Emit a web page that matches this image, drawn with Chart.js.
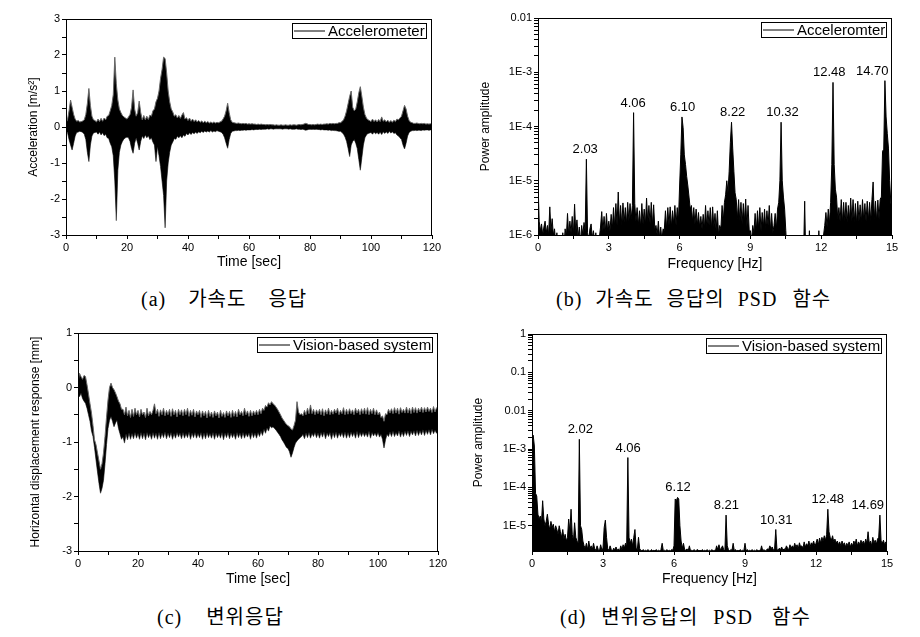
<!DOCTYPE html>
<html>
<head>
<meta charset="utf-8">
<script src="https://cdn.jsdelivr.net/npm/chart.js@4.4.0/dist/chart.umd.min.js"></script>
<style>
  body { margin: 0; background: #fff; width: 920px; height: 637px; position: relative; overflow: hidden; }
  canvas { position: absolute; }
  .cap { position: absolute; font-family: "Liberation Serif", "Noto Sans CJK KR", serif; font-size: 20px; line-height: 20px; color: #000; white-space: nowrap; }
  .cap span { display: inline-block; letter-spacing: 1px; }
</style>
</head>
<body>
<canvas id="accChart" width="460" height="280" style="left:0;top:0"></canvas>
<canvas id="accPsdChart" width="460" height="280" style="left:460px;top:0"></canvas>
<canvas id="dispChart" width="460" height="280" style="left:0;top:320px"></canvas>
<canvas id="dispPsdChart" width="460" height="280" style="left:460px;top:320px"></canvas>

<div class="cap" style="left:141px;top:289px"><span>(a)</span><span style="margin-left:22px">가속도</span><span style="margin-left:22px">응답</span></div>
<div class="cap" style="left:556px;top:289px"><span>(b)</span><span style="margin-left:13px">가속도</span><span style="margin-left:13px">응답의</span><span style="margin-left:13px">PSD</span><span style="margin-left:15px">함수</span></div>
<div class="cap" style="left:157px;top:607px"><span>(c)</span><span style="margin-left:24px">변위응답</span></div>
<div class="cap" style="left:560px;top:607px"><span>(d)</span><span style="margin-left:15px">변위응답의</span><span style="margin-left:15px">PSD</span><span style="margin-left:19px">함수</span></div>

<script>
// ---------- data ----------

// (a) acceleration, upper / lower envelope every 0.5 s, 0..120 s [m/s2]
const accStep = 0.5;
const accHi = [
  0.12, 0.2, 0.45, 0.75, 0.55, 0.35, 0.22, 0.16, 0.18, 0.14,
  0.15, 0.17, 0.2, 0.35, 0.65, 1.07, 0.6, 0.3, 0.2, 0.18,
  0.14, 0.22, 0.15, 0.24, 0.16, 0.25, 0.2, 0.3, 0.32, 0.45,
  0.6, 0.9, 1.94, 1.2, 0.75, 0.5, 0.4, 0.32, 0.28, 0.25,
  0.22, 0.28, 0.35, 0.55, 1.03, 0.5, 0.3, 0.4, 0.72, 0.4,
  0.2, 0.32, 0.2, 0.3, 0.21, 0.33, 0.3, 0.45, 0.5, 0.7,
  0.8, 1.0, 1.35, 1.6, 1.94, 1.9, 1.5, 1.0, 0.7, 0.5,
  0.42, 0.3, 0.34, 0.25, 0.32, 0.24, 0.33, 0.4, 0.22, 0.26,
  0.18, 0.25, 0.16, 0.22, 0.15, 0.2, 0.14, 0.18, 0.13, 0.17,
  0.12, 0.16, 0.12, 0.15, 0.11, 0.14, 0.11, 0.14, 0.11, 0.13,
  0.12, 0.14, 0.16, 0.22, 0.3, 0.45, 0.66, 0.4, 0.2, 0.13,
  0.12, 0.11, 0.1, 0.11, 0.1, 0.09, 0.1, 0.09, 0.1, 0.08,
  0.09, 0.08, 0.09, 0.08, 0.08, 0.07, 0.08, 0.07, 0.08, 0.07,
  0.07, 0.06, 0.07, 0.06, 0.07, 0.06, 0.06, 0.05, 0.06, 0.05,
  0.05, 0.06, 0.05, 0.05, 0.06, 0.05, 0.05, 0.06, 0.05, 0.06,
  0.06, 0.05, 0.06, 0.07, 0.06, 0.07, 0.08, 0.1, 0.09, 0.07,
  0.07, 0.06, 0.07, 0.06, 0.07, 0.08, 0.07, 0.08, 0.07, 0.08,
  0.08, 0.09, 0.08, 0.1, 0.09, 0.1, 0.09, 0.1, 0.1, 0.12,
  0.12, 0.15, 0.2, 0.3, 0.45, 0.65, 0.85, 1.0, 0.55, 0.45,
  0.5, 0.7, 0.95, 1.12, 0.85, 0.55, 0.35, 0.25, 0.2, 0.18,
  0.15, 0.22, 0.15, 0.2, 0.14, 0.21, 0.15, 0.28, 0.16, 0.2,
  0.14, 0.19, 0.13, 0.18, 0.13, 0.19, 0.15, 0.22, 0.2, 0.25,
  0.3, 0.45, 0.6, 0.5, 0.3, 0.18, 0.13, 0.12, 0.1, 0.1,
  0.11, 0.1, 0.09, 0.1, 0.09, 0.1, 0.08, 0.09, 0.08, 0.09,
  0.08
];
const accLo = [
  -0.1, -0.15, -0.35, -0.5, -0.64, -0.45, -0.25, -0.15, -0.14, -0.12,
  -0.13, -0.15, -0.2, -0.35, -0.7, -0.96, -0.5, -0.25, -0.17, -0.15,
  -0.14, -0.2, -0.14, -0.22, -0.16, -0.24, -0.2, -0.3, -0.32, -0.45,
  -0.55, -0.8, -1.5, -2.6, -1.2, -0.7, -0.5, -0.4, -0.33, -0.3,
  -0.28, -0.3, -0.4, -0.6, -0.73, -0.45, -0.3, -0.45, -0.64, -0.4,
  -0.25, -0.32, -0.22, -0.3, -0.24, -0.35, -0.3, -0.42, -0.5, -0.96,
  -0.55, -0.8, -1.1, -1.5, -1.9, -2.8, -1.5, -1.0, -0.7, -0.5,
  -0.42, -0.32, -0.34, -0.26, -0.3, -0.24, -0.3, -0.22, -0.26, -0.18,
  -0.22, -0.16, -0.21, -0.15, -0.19, -0.14, -0.18, -0.13, -0.16, -0.12,
  -0.15, -0.11, -0.14, -0.11, -0.14, -0.1, -0.14, -0.11, -0.13, -0.1,
  -0.12, -0.13, -0.15, -0.2, -0.3, -0.45, -0.59, -0.35, -0.18, -0.12,
  -0.11, -0.1, -0.1, -0.09, -0.1, -0.09, -0.09, -0.08, -0.09, -0.08,
  -0.08, -0.08, -0.07, -0.08, -0.07, -0.07, -0.07, -0.06, -0.07, -0.06,
  -0.06, -0.06, -0.05, -0.06, -0.05, -0.05, -0.06, -0.05, -0.05, -0.05,
  -0.05, -0.05, -0.06, -0.05, -0.05, -0.05, -0.06, -0.05, -0.06, -0.06,
  -0.06, -0.05, -0.06, -0.06, -0.07, -0.06, -0.07, -0.09, -0.08, -0.07,
  -0.06, -0.07, -0.06, -0.07, -0.06, -0.07, -0.07, -0.08, -0.07, -0.08,
  -0.08, -0.08, -0.09, -0.08, -0.1, -0.09, -0.1, -0.1, -0.11, -0.12,
  -0.12, -0.15, -0.2, -0.28, -0.4, -0.6, -0.82, -0.5, -0.4, -0.35,
  -0.45, -0.6, -0.9, -1.2, -0.85, -0.5, -0.3, -0.22, -0.18, -0.17,
  -0.15, -0.2, -0.14, -0.19, -0.15, -0.2, -0.14, -0.21, -0.13, -0.18,
  -0.13, -0.18, -0.12, -0.17, -0.13, -0.18, -0.16, -0.22, -0.25, -0.3,
  -0.35, -0.5, -0.61, -0.45, -0.25, -0.15, -0.12, -0.1, -0.1, -0.09,
  -0.1, -0.09, -0.09, -0.1, -0.08, -0.09, -0.08, -0.08, -0.09, -0.08,
  -0.08
];

// (c) horizontal displacement, upper / lower envelope every 0.5 s [mm]
const dispStep = 0.5;
const dispHi = [
  0.1, 0.26, 0.2, 0.15, 0.22, 0.2, 0.05, -0.12, -0.3, -0.47,
  -0.7, -0.96, -1.05, -1.2, -1.35, -1.5, -1.4, -1.2, -0.9, -0.55,
  -0.23, 0.0, 0.08, 0.0, -0.04, -0.1, -0.17, -0.25, -0.3, -0.4,
  -0.4, -0.5, -0.36, -0.52, -0.42, -0.55, -0.4, -0.53, -0.38, -0.5,
  -0.42, -0.54, -0.4, -0.5, -0.45, -0.55, -0.38, -0.52, -0.44, -0.5,
  -0.42, -0.3, -0.48, -0.4, -0.53, -0.41, -0.5, -0.38, -0.52, -0.42,
  -0.5, -0.4, -0.53, -0.39, -0.5, -0.42, -0.54, -0.4, -0.5, -0.41,
  -0.52, -0.4, -0.5, -0.38, -0.53, -0.42, -0.51, -0.4, -0.54, -0.43,
  -0.5, -0.42, -0.55, -0.43, -0.52, -0.44, -0.56, -0.42, -0.53, -0.45,
  -0.55, -0.43, -0.52, -0.45, -0.56, -0.42, -0.53, -0.46, -0.55, -0.43,
  -0.52, -0.44, -0.55, -0.42, -0.53, -0.44, -0.54, -0.4, -0.5, -0.44,
  -0.52, -0.38, -0.5, -0.43, -0.53, -0.42, -0.52, -0.43, -0.5, -0.42,
  -0.5, -0.4, -0.48, -0.38, -0.42, -0.33, -0.36, -0.28, -0.32, -0.26,
  -0.3, -0.32, -0.36, -0.4, -0.45, -0.5, -0.56, -0.6, -0.64, -0.68,
  -0.7, -0.72, -0.76, -0.78, -0.7, -0.6, -0.26, -0.45, -0.5, -0.48,
  -0.52, -0.42, -0.5, -0.38, -0.48, -0.32, -0.48, -0.4, -0.5, -0.41,
  -0.48, -0.4, -0.5, -0.39, -0.52, -0.41, -0.49, -0.38, -0.5, -0.42,
  -0.49, -0.4, -0.47, -0.38, -0.5, -0.42, -0.48, -0.37, -0.5, -0.4,
  -0.49, -0.39, -0.48, -0.41, -0.5, -0.38, -0.47, -0.4, -0.5, -0.39,
  -0.48, -0.38, -0.49, -0.37, -0.5, -0.4, -0.48, -0.38, -0.5, -0.41,
  -0.5, -0.45, -0.55, -0.52, -0.62, -0.48, -0.5, -0.4, -0.47, -0.39,
  -0.48, -0.37, -0.47, -0.38, -0.49, -0.37, -0.46, -0.4, -0.47, -0.36,
  -0.47, -0.38, -0.48, -0.36, -0.46, -0.37, -0.47, -0.38, -0.45, -0.36,
  -0.46, -0.37, -0.45, -0.36, -0.44, -0.38, -0.46, -0.35, -0.45, -0.37,
  -0.42
];
const dispLo = [
  -0.1, -0.17, -0.1, -0.2, -0.25, -0.29, -0.38, -0.5, -0.62, -0.8,
  -0.9, -1.1, -1.33, -1.55, -1.76, -1.94, -1.85, -1.7, -1.4, -1.05,
  -0.75, -0.6, -0.53, -0.62, -0.72, -0.65, -0.6, -0.75, -0.85, -0.95,
  -0.9, -1.02, -0.85, -0.96, -0.83, -0.95, -0.84, -0.94, -0.82, -0.93,
  -0.84, -0.95, -0.82, -0.94, -0.83, -0.96, -0.82, -0.92, -0.84, -0.95,
  -0.82, -0.93, -0.83, -0.95, -0.82, -0.94, -0.83, -0.92, -0.81, -0.94,
  -0.83, -0.92, -0.82, -0.95, -0.84, -0.93, -0.82, -0.91, -0.83, -0.94,
  -0.82, -0.93, -0.84, -0.92, -0.81, -0.95, -0.83, -0.92, -0.82, -0.93,
  -0.84, -0.92, -0.82, -0.95, -0.83, -0.94, -0.82, -0.92, -0.84, -0.93,
  -0.82, -0.95, -0.83, -0.92, -0.84, -0.93, -0.82, -0.96, -0.83, -0.92,
  -0.82, -0.94, -0.83, -0.92, -0.84, -0.95, -0.82, -0.92, -0.83, -0.94,
  -0.82, -0.93, -0.84, -0.91, -0.83, -0.95, -0.82, -0.92, -0.83, -0.93,
  -0.82, -0.9, -0.8, -0.88, -0.76, -0.84, -0.74, -0.8, -0.7, -0.74,
  -0.72, -0.75, -0.78, -0.82, -0.86, -0.9, -0.96, -1.0, -1.05, -1.1,
  -1.12, -1.18, -1.28, -1.2, -1.1, -1.02, -0.98, -0.95, -0.92, -0.9,
  -0.86, -0.94, -0.83, -0.92, -0.82, -0.93, -0.84, -0.9, -0.82, -0.92,
  -0.83, -0.93, -0.82, -0.91, -0.81, -0.94, -0.83, -0.9, -0.82, -0.95,
  -0.82, -0.92, -0.81, -0.93, -0.83, -0.9, -0.82, -0.92, -0.81, -0.93,
  -0.82, -0.92, -0.81, -0.9, -0.82, -0.93, -0.8, -0.92, -0.82, -0.9,
  -0.82, -0.9, -0.83, -0.91, -0.8, -0.93, -0.82, -0.89, -0.83, -0.9,
  -0.82, -0.91, -0.86, -0.95, -1.11, -0.96, -0.86, -0.9, -0.81, -0.9,
  -0.8, -0.9, -0.82, -0.89, -0.79, -0.91, -0.81, -0.9, -0.8, -0.88,
  -0.79, -0.9, -0.8, -0.87, -0.79, -0.89, -0.78, -0.88, -0.79, -0.87,
  -0.77, -0.88, -0.78, -0.86, -0.77, -0.87, -0.76, -0.85, -0.78, -0.84,
  -0.8
];

// (b) PSD of acceleration, every 0.05 Hz, 0..15 Hz
const psdStep = 0.05;
const accPsd = [
  1e-5, 1.8e-6, 1.2e-6, 1.6e-6, 1e-6, 1.4e-6, 1.8e-6, 1.1e-6, 1.5e-6, 1e-6, 3.3e-6, 1.2e-6, 2e-6, 1e-6, 1.3e-6, 7e-7, 1.1e-6, 6e-7, 8e-7, 5e-7,
  5e-7, 1.1e-6, 6e-7, 1.3e-6, 9e-7, 2.5e-6, 1e-6, 1.8e-6, 1.1e-6, 2.2e-6, 1e-6, 3.7e-6, 1.1e-6, 1.9e-6, 9e-7, 1.4e-6, 7e-7, 1.5e-6, 1e-6, 1.7e-6,
  1.2e-6, 2.5e-5, 1.1e-6, 8e-7, 1.3e-6, 1.6e-6, 9e-7, 1.2e-6, 7e-7, 1.1e-6, 6e-7, 1e-6, 9e-7, 1.4e-6, 2.7e-6, 1.2e-6, 2.2e-6, 1.1e-6, 2.5e-6, 1.2e-6,
  1.8e-6, 1.2e-6, 2.4e-6, 1.3e-6, 3.2e-6, 1.4e-6, 3.8e-6, 1.5e-6, 6.2e-6, 1.6e-6, 3.5e-6, 1.5e-6, 3.9e-6, 1.7e-6, 3.2e-6, 1.6e-6, 4e-6, 1.8e-6, 3.8e-6, 2e-6,
  3.5e-6, 1.8e-4, 3.8e-6, 1.8e-6, 3.2e-6, 1.5e-6, 2.8e-6, 1.4e-6, 3.8e-6, 1.6e-6, 3e-6, 1.5e-6, 4.8e-6, 1.7e-6, 3.5e-6, 1.6e-6, 4e-6, 1.5e-6, 3.6e-6, 1.3e-6,
  1.5e-6, 1e-6, 1.8e-6, 9e-7, 1.4e-6, 8e-7, 1.3e-6, 1.2e-6, 2.8e-6, 1.3e-6, 3.2e-6, 1.5e-6, 3.3e-6, 1.4e-6, 2.8e-6, 1.6e-6, 3.5e-6, 1.5e-6, 3.2e-6, 1.8e-6,
  8e-6, 3e-5, 1.5e-4, 9.5e-5, 3e-5, 2e-5, 1.2e-5, 8e-6, 5e-6, 3e-6, 3.5e-6, 1.8e-6, 3.2e-6, 1.6e-6, 3e-6, 1.5e-6, 2.6e-6, 1.4e-6, 2.2e-6, 1.3e-6,
  2.4e-6, 1.3e-6, 3.5e-6, 1.4e-6, 2.8e-6, 1.5e-6, 3.2e-6, 1.3e-6, 3.3e-6, 1.4e-6, 2.5e-6, 1.2e-6, 2.8e-6, 1e-6, 1.5e-6, 1.3e-6, 3.5e-6, 1.8e-6, 4e-6, 5.5e-6,
  1e-5, 6e-6, 1.5e-5, 5e-5, 1.2e-4, 4e-5, 1.5e-5, 6e-6, 4.5e-6, 2e-6, 4.5e-6, 1.8e-6, 4e-6, 1.6e-6, 3.8e-6, 1.8e-6, 4.6e-6, 1.4e-6, 3.5e-6, 1.2e-6,
  1.2e-6, 8e-7, 1.5e-6, 1.1e-6, 2.5e-6, 1.2e-6, 2.8e-6, 1.3e-6, 3.2e-6, 1.2e-6, 2.6e-6, 1.4e-6, 3e-6, 1.3e-6, 2.8e-6, 1.5e-6, 3.5e-6, 1.2e-6, 2.5e-6, 1.1e-6,
  1.5e-6, 2.5e-6, 1.3e-6, 3e-6, 4e-6, 1e-5, 1.2e-4, 1e-5, 5e-6, 3e-6, 1.2e-6, 5e-7, 4e-7, 4e-7, 3e-7, 4e-7, 3e-7, 4e-7, 3e-7, 4e-7,
  3e-7, 4e-7, 3e-7, 4e-7, 3e-7, 4e-7, 4.2e-6, 3e-7, 4e-7, 3e-7, 1.2e-6, 3e-7, 4e-7, 3e-7, 4e-7, 3e-7, 4e-7, 3e-7, 1.2e-6, 4e-7,
  3e-7, 4e-7, 1e-6, 1.5e-6, 2.6e-6, 1.4e-6, 3e-6, 1.6e-6, 4e-6, 2e-5, 6.5e-4, 2e-5, 7e-6, 5e-6, 2e-6, 3.2e-6, 1.8e-6, 4.5e-6, 1.7e-6, 4e-6,
  1.8e-6, 4e-6, 1.7e-6, 3.5e-6, 1.9e-6, 4.8e-6, 1.8e-6, 4.5e-6, 1.7e-6, 3.8e-6, 1.6e-6, 4.2e-6, 1.8e-6, 3.6e-6, 1.7e-6, 4.5e-6, 1.9e-6, 3.8e-6, 1.8e-6, 4.2e-6,
  1.9e-6, 4e-6, 1.8e-6, 4.5e-6, 9.5e-6, 2e-6, 4.2e-6, 1.8e-6, 4.4e-6, 2e-6, 4.6e-6, 5e-6, 3.5e-5, 3.8e-5, 7e-4, 1.5e-4, 7.5e-5, 4e-5, 1e-5, 4e-6,
  2e-6
];

// (d) PSD of displacement, every 0.05 Hz, 0..15 Hz
const dispPsd = [
  1.5e-3, 2.3e-3, 1.2e-3, 7e-5, 6e-5, 2e-5, 1.5e-5, 1.8e-5, 1.2e-5, 4.5e-5, 1.5e-5, 1e-5, 1.3e-5, 2e-5, 1.1e-5, 8e-6, 1.3e-5, 9e-6, 1.1e-5, 7e-6,
  1e-5, 8e-6, 6e-6, 1e-5, 7e-6, 5e-6, 8e-6, 4.5e-6, 6e-6, 4e-6, 5e-6, 1.5e-5, 7e-6, 2.7e-5, 6e-6, 4e-6, 1.2e-5, 5e-6, 4e-6, 3.5e-6,
  1.8e-3, 1e-5, 8e-6, 4e-6, 3e-6, 2.6e-6, 3.5e-6, 2.4e-6, 4e-6, 2.5e-6, 3e-6, 2.4e-6, 3.5e-6, 2.5e-6, 2.3e-6, 3e-6, 2.4e-6, 2.2e-6, 3.2e-6, 2.4e-6,
  2.6e-6, 9e-6, 1.4e-5, 5e-6, 2.5e-6, 2.3e-6, 3e-6, 2.4e-6, 2.2e-6, 2.6e-6, 2.4e-6, 2.8e-6, 2.3e-6, 2.5e-6, 2.2e-6, 3e-6, 2.4e-6, 3.2e-6, 2.6e-6, 3.5e-6,
  2.8e-6, 6e-4, 5e-6, 3.5e-6, 4.5e-6, 3e-6, 5e-6, 8e-6, 2.6e-6, 2.4e-6, 5e-6, 2.5e-6, 2.3e-6, 2.2e-6, 2.4e-6, 2.2e-6, 2.3e-6, 2.2e-6, 2.4e-6, 2.2e-6,
  2.2e-6, 2.4e-6, 2.2e-6, 2.3e-6, 2.2e-6, 2.4e-6, 2.2e-6, 2.3e-6, 2.2e-6, 2.4e-6, 3.5e-6, 2.2e-6, 2.3e-6, 2.2e-6, 2.4e-6, 2.2e-6, 2.3e-6, 2.2e-6, 2.4e-6, 2.3e-6,
  3e-6, 5e-5, 4.5e-5, 5.5e-5, 5e-5, 1e-5, 4e-6, 2.6e-6, 3.5e-6, 2.4e-6, 2.3e-6, 2.5e-6, 2.2e-6, 3e-6, 2.2e-6, 2.3e-6, 2.2e-6, 2.4e-6, 2.2e-6, 2.3e-6,
  2.4e-6, 2.2e-6, 2.3e-6, 2.2e-6, 2.4e-6, 2.2e-6, 2.3e-6, 2.2e-6, 2.4e-6, 2.2e-6, 2.3e-6, 2.2e-6, 2.4e-6, 2.2e-6, 2.3e-6, 2.2e-6, 3e-6, 2.4e-6, 3.2e-6, 2.4e-6,
  2.6e-6, 3e-6, 2.4e-6, 2.2e-6, 1.9e-5, 3e-6, 2.4e-6, 2.2e-6, 2.4e-6, 2.3e-6, 3.5e-6, 2.2e-6, 2.4e-6, 2.2e-6, 2.3e-6, 2.2e-6, 2.4e-6, 2.2e-6, 2.3e-6, 2.2e-6,
  3.5e-6, 2.2e-6, 2.4e-6, 2.2e-6, 2.3e-6, 2.2e-6, 2.4e-6, 2.2e-6, 2.3e-6, 2.2e-6, 2.4e-6, 2.2e-6, 2.3e-6, 2.2e-6, 3e-6, 2.2e-6, 2.4e-6, 2.2e-6, 2.3e-6, 2.5e-6,
  2.4e-6, 3e-6, 2.5e-6, 2.8e-6, 2.3e-6, 2.5e-6, 8e-6, 2.4e-6, 2.3e-6, 2.6e-6, 2.4e-6, 2.8e-6, 2.3e-6, 2.5e-6, 2.4e-6, 3e-6, 2.6e-6, 2.4e-6, 3.2e-6, 2.6e-6,
  3e-6, 2.6e-6, 3.5e-6, 2.8e-6, 3.2e-6, 2.5e-6, 3.6e-6, 2.8e-6, 3e-6, 2.6e-6, 3.8e-6, 2.8e-6, 3.4e-6, 3e-6, 4e-6, 2.8e-6, 3.6e-6, 3.2e-6, 4e-6, 3e-6,
  3.5e-6, 4.5e-6, 3.2e-6, 4.8e-6, 3.5e-6, 5e-6, 4e-6, 5.5e-6, 4.2e-6, 6e-6, 2.7e-5, 7e-6, 5e-6, 4.2e-6, 5.5e-6, 3.8e-6, 4.5e-6, 3.5e-6, 4e-6, 3.2e-6,
  3.8e-6, 3e-6, 4e-6, 3.2e-6, 3.6e-6, 2.8e-6, 3.5e-6, 3e-6, 3.8e-6, 2.8e-6, 3.5e-6, 3e-6, 4e-6, 3.2e-6, 4.5e-6, 3e-6, 3.8e-6, 3.2e-6, 4.2e-6, 3.4e-6,
  4e-6, 3.2e-6, 4.5e-6, 3.5e-6, 7e-6, 3.4e-6, 4e-6, 3e-6, 5e-6, 3.5e-6, 4.2e-6, 3.3e-6, 4.5e-6, 5e-6, 1.9e-5, 4e-6, 3.5e-6, 4.2e-6, 3.2e-6, 3.8e-6,
  3e-6
];

// peak annotations: label centre [Hz], value the label sits on, text
const accPeakHz   = [2.0, 4.03, 6.13, 8.25, 10.36, 12.34, 14.16];
const accPeakAmp  = [2.5e-5, 1.8e-4, 1.5e-4, 1.2e-4, 1.2e-4, 6.5e-4, 7e-4];
const accPeakText = ['2.03', '4.06', '6.10', '8.22', '10.32', '12.48', '14.70'];
const dispPeakHz   = [2.04, 4.06, 6.17, 8.21, 10.32, 12.5, 14.19];
const dispPeakAmp  = [1.8e-3, 6e-4, 5.5e-5, 1.9e-5, 8e-6, 2.7e-5, 1.9e-5];
const dispPeakText = ['2.02', '4.06', '6.12', '8.21', '10.31', '12.48', '14.69'];

// log axis tick labels
const accPsdDecades = [1e-6, 1e-5, 1e-4, 1e-3, 1e-2];
const accPsdDecadeText = ['1E-6', '1E-5', '1E-4', '1E-3', '0.01'];
const dispPsdDecades = [1e-5, 1e-4, 1e-3, 1e-2, 1e-1, 1];
const dispPsdDecadeText = ['1E-5', '1E-4', '1E-3', '0.01', '0.1', '1'];

// ---------- chart helpers ----------
const FONT = '"Liberation Sans", Arial, Helvetica, sans-serif';
Chart.defaults.font.family = FONT;
Chart.defaults.font.size = 11;
Chart.defaults.color = '#000';

function series(vals, step) {
  return vals.map((v, i) => ({ x: i * step, y: v }));
}

// frame, inner legend box and peak labels (Origin style)
const originBox = {
  id: 'originBox',
  afterDatasetsDraw(chart, args, o) {
    const { ctx, chartArea: a, scales } = chart;
    ctx.save();
    ctx.strokeStyle = '#000';
    ctx.lineWidth = 1;
    ctx.strokeRect(a.left + 0.5, a.top + 0.5, a.right - a.left - 1, a.bottom - a.top);

    if (o.peaks) {
      ctx.font = '13px ' + FONT;
      ctx.fillStyle = '#000';
      ctx.textAlign = 'center';
      ctx.textBaseline = 'bottom';
      o.peaks.hz.forEach((f, i) => {
        ctx.fillText(o.peaks.text[i], scales.x.getPixelForValue(f), scales.y.getPixelForValue(o.peaks.amp[i]) - 3);
      });
    }

    const label = chart.data.datasets[0].label;
    ctx.font = '15px ' + FONT;
    const tw = ctx.measureText(label).width;
    const right = Math.round(a.right - 6), top = Math.round(a.top + 4), h = 15;
    const left = Math.round(right - tw - 37);
    ctx.fillStyle = '#fff';
    ctx.fillRect(left, top, right - left, h);
    ctx.strokeRect(left + 0.5, top + 0.5, right - left, h);
    ctx.beginPath();
    ctx.moveTo(left + 2, top + 8);
    ctx.lineTo(left + 33, top + 8);
    ctx.stroke();
    ctx.fillStyle = '#000';
    ctx.textAlign = 'left';
    ctx.textBaseline = 'middle';
    ctx.fillText(label, left + 36, top + h / 2 + 1);
    ctx.restore();
  }
};

function xAxis(max, step, every, title, height, titlePad) {
  return {
    type: 'linear', min: 0, max: max,
    ticks: { stepSize: step, autoSkip: false, maxRotation: 0, padding: 2,
             callback: v => (Math.abs(v / every - Math.round(v / every)) < 1e-9 ? v : '') },
    grid: { drawOnChartArea: false, tickLength: 4, color: '#000' },
    border: { display: false },
    title: { display: true, text: title, font: { size: 14 }, padding: { top: 0, bottom: titlePad } },
    afterFit: s => { s.height = height; }
  };
}

function linY(min, max, title, width, titlePad) {
  return {
    min: min, max: max,
    ticks: { stepSize: 0.5, autoSkip: false, padding: 2,
             callback: v => (Number.isInteger(v) ? v : '') },
    grid: { drawOnChartArea: false, tickLength: 4, color: '#000' },
    border: { display: false },
    title: { display: true, text: title, font: { size: 12 }, padding: { top: titlePad, bottom: 0 } },
    afterFit: s => { s.width = width; }
  };
}

function logY(min, max, decades, texts, title, width, titlePad) {
  const tickVals = [];
  decades.forEach(d => {
    for (let k = 1; k < 10; k++) {
      const v = k === 1 ? d : k * d;
      if (v >= min && v <= max) tickVals.push(v);
    }
  });
  return {
    type: 'logarithmic', min: min, max: max,
    afterBuildTicks: s => { s.ticks = tickVals.map(v => ({ value: v })); },
    ticks: { autoSkip: false, padding: 2,
             callback: v => { const i = decades.indexOf(v); return i < 0 ? '' : texts[i]; } },
    grid: { drawOnChartArea: false, tickLength: 4, color: '#000' },
    border: { display: false },
    title: { display: true, text: title, font: { size: 12 }, padding: { top: titlePad, bottom: 0 } },
    afterFit: s => { s.width = width; }
  };
}

function bandChart(id, label, hi, lo, step, pad, x, y) {
  return new Chart(document.getElementById(id), {
    type: 'line',
    data: {
      datasets: [
        { label: label, data: series(hi, step), borderColor: '#666', backgroundColor: '#000',
          borderWidth: 1, pointRadius: 0, tension: 0, fill: '+1' },
        { label: label + ' (min)', data: series(lo, step), borderColor: '#666',
          borderWidth: 1, pointRadius: 0, tension: 0, fill: false }
      ]
    },
    options: {
      responsive: false, animation: false, events: [],
      layout: { padding: pad },
      plugins: { legend: { display: false }, tooltip: { enabled: false }, originBox: {} },
      scales: { x: x, y: y }
    },
    plugins: [originBox]
  });
}

function psdChart(id, label, vals, pad, x, y, peaks) {
  return new Chart(document.getElementById(id), {
    type: 'line',
    data: {
      datasets: [
        { label: label, data: series(vals, psdStep), borderColor: '#000', backgroundColor: '#000',
          borderWidth: 1, pointRadius: 0, tension: 0, fill: 'start' }
      ]
    },
    options: {
      responsive: false, animation: false, events: [],
      layout: { padding: pad },
      plugins: { legend: { display: false }, tooltip: { enabled: false }, originBox: { peaks: peaks } },
      scales: { x: x, y: y }
    },
    plugins: [originBox]
  });
}

// ---------- the four panels ----------
bandChart('accChart', 'Accelerometer', accHi, accLo, accStep,
  { top: 19, right: 28, left: 0, bottom: 0 },
  xAxis(120, 10, 20, 'Time [sec]', 45, 9),
  linY(-3, 3, 'Acceleration [m/s²]', 66, 26));

psdChart('accPsdChart', 'Acceleromter', accPsd,
  { top: 18, right: 28, left: 0, bottom: 0 },
  xAxis(15, 1.5, 3, 'Frequency [Hz]', 45, 7),
  logY(1e-6, 1e-2, accPsdDecades, accPsdDecadeText, 'Power amplitude', 78, 18),
  { hz: accPeakHz, amp: accPeakAmp, text: accPeakText });

bandChart('dispChart', 'Vision-based system', dispHi, dispLo, dispStep,
  { top: 13, right: 22, left: 0, bottom: 0 },
  xAxis(120, 10, 20, 'Time [sec]', 49, 12),
  linY(-3, 1, 'Horizontal displacement response [mm]', 78, 28));

psdChart('dispPsdChart', 'Vision-based system', dispPsd,
  { top: 14, right: 33, left: 0, bottom: 0 },
  xAxis(15, 1.5, 3, 'Frequency [Hz]', 49, 12),
  logY(2.2e-6, 1, dispPsdDecades, dispPsdDecadeText, 'Power amplitude', 72, 11),
  { hz: dispPeakHz, amp: dispPeakAmp, text: dispPeakText });
</script>
</body>
</html>
